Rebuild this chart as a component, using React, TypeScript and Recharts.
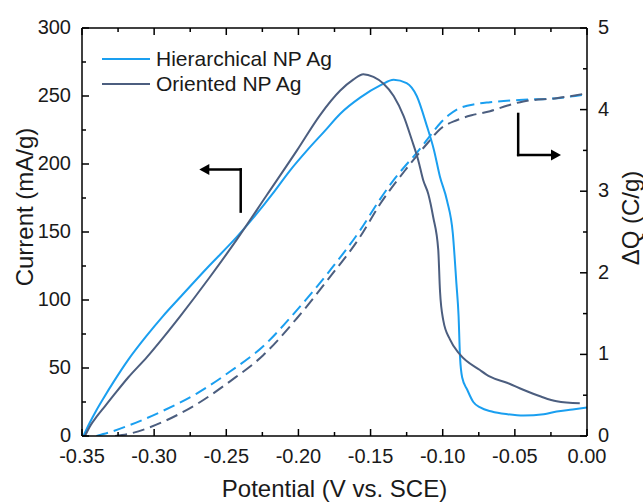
import { LineChart, Line, XAxis, YAxis, Legend, ReferenceLine } from 'recharts'

// potential (V vs. SCE) / current (mA/g)
const hierCurrentV = [-0.349, -0.345, -0.34, -0.335, -0.328, -0.318, -0.305, -0.294, -0.282, -0.262, -0.243, -0.23, -0.218, -0.206, -0.194, -0.182, -0.171, -0.157, -0.143, -0.134, -0.125, -0.118, -0.111, -0.106, -0.102, -0.097, -0.093, -0.0905, -0.089, -0.088, -0.0865, -0.083, -0.0788, -0.074, -0.066, -0.055, -0.044, -0.03, -0.021, -0.01, 0]
const hierCurrent = [0, 9, 19, 28, 40, 56, 74, 88, 102, 125, 146, 162, 178, 195, 210, 224, 237, 249, 258, 262, 259.5, 250, 228, 210, 191, 173, 149, 112, 88, 58, 43, 34, 25, 21, 18, 16, 15, 16, 18, 19.5, 21]

const orientCurrentV = [-0.348, -0.344, -0.34, -0.334, -0.328, -0.318, -0.305, -0.294, -0.282, -0.262, -0.243, -0.222, -0.201, -0.185, -0.171, -0.162, -0.155, -0.148, -0.141, -0.134, -0.127, -0.1215, -0.117, -0.1135, -0.11, -0.1066, -0.1031, -0.1019, -0.0996, -0.095, -0.0881, -0.0742, -0.0672, -0.055, -0.0442, -0.032, -0.021, -0.005]
const orientCurrent = [0, 8, 14, 22, 30, 43, 58, 72, 88, 116, 144, 177, 210, 236, 254, 262, 266, 264, 259, 250, 235, 218, 203, 188, 178, 161, 137, 107, 85, 71, 60, 48.5, 43.6, 39, 34, 29, 25.5, 24]

// charge dQ (C/g)
const hierChargeV = [-0.34, -0.33, -0.3167, -0.2937, -0.2705, -0.2474, -0.2244, -0.2012, -0.1781, -0.1573, -0.1435, -0.1343, -0.125, -0.118, -0.11, -0.1019, -0.096, -0.0903, -0.0765, -0.0672, -0.0442, -0.021, 0]
const hierCharge = [0, 0.05, 0.135, 0.31, 0.52, 0.79, 1.1, 1.54, 2.03, 2.52, 2.9, 3.13, 3.33, 3.47, 3.65, 3.83, 3.93, 4.0, 4.07, 4.09, 4.12, 4.14, 4.19]

const orientChargeV = [-0.327, -0.3167, -0.2937, -0.2705, -0.2474, -0.2244, -0.2012, -0.1781, -0.1573, -0.1435, -0.125, -0.11, -0.1019, -0.0903, -0.08, -0.0672, -0.055, -0.0442, -0.021, 0]
const orientCharge = [0, 0.03, 0.175, 0.39, 0.67, 0.99, 1.44, 1.95, 2.44, 2.84, 3.28, 3.6, 3.76, 3.87, 3.93, 3.98, 4.05, 4.1, 4.14, 4.2]

const seriesNames = ['Hierarchical NP Ag', 'Oriented NP Ag']
const seriesColors = ['#1a9ff0', '#4c5e7f']

const xMajor = [-0.35, -0.3, -0.25, -0.2, -0.15, -0.1, -0.05, 0]
const xMinor = [-0.325, -0.275, -0.225, -0.175, -0.125, -0.075, -0.025]
const iMajor = [0, 50, 100, 150, 200, 250, 300]
const iMinor = [25, 75, 125, 175, 225, 275]
const qMajor = [0, 1, 2, 3, 4, 5]
const qMinor = [0.5, 1.5, 2.5, 3.5, 4.5]

// arrow annotations in data units (x, current)
const leftArrow = [[-0.24, 165], [-0.24, 196], [-0.2687, 196]]
const rightArrow = [[-0.0477, 236.8], [-0.0477, 206.6], [-0.018, 206.6]]

const zip = (xs: number[], ys: number[]) => xs.map((x, i) => ({ x, y: ys[i] }))
const sorted = (a: number[], b: number[]) => [...a, ...b].sort((p, q) => p - q)
const isMajor = (v: number, majors: number[]) => majors.some(m => Math.abs(m - v) < 1e-9)

const FONT = '"Liberation Sans", Arial, sans-serif'
const INK = '#1a1a1a'
const MAJ = 7
const MIN = 4

function BottomTick({ x, y, payload }: any) {
  const major = isMajor(payload.value, xMajor)
  return (
    <g>
      <line x1={x} y1={y} x2={x} y2={y - (major ? MAJ : MIN)} stroke="#000" strokeWidth={1.5} />
      {major && (
        <text x={x} y={y + 20} textAnchor="middle" dominantBaseline="central" fontSize={20} fontFamily={FONT} fill={INK}>
          {payload.value.toFixed(2)}
        </text>
      )}
    </g>
  )
}

function TopTick({ x, y, payload }: any) {
  const major = isMajor(payload.value, xMajor)
  return <line x1={x} y1={y} x2={x} y2={y + (major ? MAJ : MIN)} stroke="#000" strokeWidth={1.5} />
}

function LeftTick({ x, y, payload }: any) {
  const major = isMajor(payload.value, iMajor)
  return (
    <g>
      <line x1={x} y1={y} x2={x + (major ? MAJ : MIN)} y2={y} stroke="#000" strokeWidth={1.5} />
      {major && (
        <text x={x - 11} y={y - 1} textAnchor="end" dominantBaseline="central" fontSize={20} fontFamily={FONT} fill={INK}>
          {payload.value}
        </text>
      )}
    </g>
  )
}

function RightTick({ x, y, payload }: any) {
  const major = isMajor(payload.value, qMajor)
  return (
    <g>
      <line x1={x} y1={y} x2={x - (major ? MAJ : MIN)} y2={y} stroke="#000" strokeWidth={1.5} />
      {major && (
        <text x={x + 11} y={y - 1} textAnchor="start" dominantBaseline="central" fontSize={20} fontFamily={FONT} fill={INK}>
          {payload.value}
        </text>
      )}
    </g>
  )
}

function Arrow(props: any) {
  const { x1, y1, x2, y2, head } = props
  const ang = Math.atan2(y2 - y1, x2 - x1)
  const L = 10, W = 5.5
  const bx = x2 - L * Math.cos(ang), by = y2 - L * Math.sin(ang)
  const px = -Math.sin(ang) * W, py = Math.cos(ang) * W
  return (
    <g>
      <line x1={x1} y1={y1} x2={head ? bx : x2} y2={head ? by : y2} stroke="#000" strokeWidth={2.5} strokeLinecap="square" />
      {head && <polygon points={`${x2},${y2} ${bx + px},${by + py} ${bx - px},${by - py}`} fill="#000" />}
    </g>
  )
}

function LegendBox() {
  return (
    <div style={{ fontFamily: FONT, fontSize: 21, color: INK }}>
      {seriesNames.map((n, i) => (
        <div key={n} style={{ display: 'flex', alignItems: 'center', height: 25 }}>
          <svg width={48} height={4} style={{ marginRight: 6 }}>
            <line x1={0} y1={2} x2={48} y2={2} stroke={seriesColors[i]} strokeWidth={2} />
          </svg>
          <span style={{ lineHeight: '25px' }}>{n}</span>
        </div>
      ))}
    </div>
  )
}

export default function App() {
  const arrows = [leftArrow, rightArrow]
  return (
    <div style={{ position: 'absolute', left: 0, top: 0, background: '#fff' }}>
      <LineChart width={643} height={502} margin={{ top: 27, right: 0, bottom: 0, left: 0 }}>
        <XAxis
          xAxisId="b" type="number" dataKey="x" domain={[-0.35, 0]} allowDataOverflow
          ticks={sorted(xMajor, xMinor)} interval={0} tick={<BottomTick />} tickLine={false}
          tickSize={0} tickMargin={0} height={66} axisLine={{ stroke: '#000', strokeWidth: 1.5 }}
          label={{
            content: ({ viewBox }: any) => (
              <text x={viewBox.x + viewBox.width / 2} y={viewBox.y + 52} textAnchor="middle" dominantBaseline="central" fontSize={24} fontFamily={FONT} fill={INK}>
                Potential (V vs. SCE)
              </text>
            ),
          }}
        />
        <XAxis
          xAxisId="t" orientation="top" type="number" dataKey="x" domain={[-0.35, 0]} allowDataOverflow
          ticks={sorted(xMajor, xMinor)} interval={0} tick={<TopTick />} tickLine={false}
          tickSize={0} tickMargin={0} height={1} axisLine={{ stroke: '#000', strokeWidth: 1.5 }}
        />
        <YAxis
          yAxisId="I" type="number" domain={[0, 300]} allowDataOverflow
          ticks={sorted(iMajor, iMinor)} interval={0} tick={<LeftTick />} tickLine={false}
          tickSize={0} tickMargin={0} width={82} axisLine={{ stroke: '#000', strokeWidth: 1.5 }}
          label={{
            content: ({ viewBox }: any) => (
              <text x={viewBox.x + 24} y={207} transform={`rotate(-90, ${viewBox.x + 24}, 207)`} textAnchor="middle" dominantBaseline="central" fontSize={24} fontFamily={FONT} fill={INK}>
                Current (mA/g)
              </text>
            ),
          }}
        />
        <YAxis
          yAxisId="Q" orientation="right" type="number" domain={[0, 5]} allowDataOverflow
          ticks={sorted(qMajor, qMinor)} interval={0} tick={<RightTick />} tickLine={false}
          tickSize={0} tickMargin={0} width={56} axisLine={{ stroke: '#000', strokeWidth: 1.5 }}
          label={{
            content: ({ viewBox }: any) => (
              <text x={viewBox.x + 43} y={218} transform={`rotate(-90, ${viewBox.x + 43}, 218)`} textAnchor="middle" dominantBaseline="central" fontSize={24} fontFamily={FONT} fill={INK}>
                ΔQ (C/g)
              </text>
            ),
          }}
        />
        <Legend layout="vertical" align="center" verticalAlign="middle" wrapperStyle={{ left: 102, top: 46, width: 'auto' }} content={() => <LegendBox />} />

        <Line xAxisId="b" yAxisId="Q" data={zip(hierChargeV, hierCharge)} dataKey="y" type="monotone" stroke={seriesColors[0]} strokeWidth={2} strokeDasharray="12 6" dot={false} isAnimationActive={false} />
        <Line xAxisId="b" yAxisId="Q" data={zip(orientChargeV, orientCharge)} dataKey="y" type="monotone" stroke={seriesColors[1]} strokeWidth={2} strokeDasharray="12 6" dot={false} isAnimationActive={false} />
        <Line xAxisId="b" yAxisId="I" data={zip(hierCurrentV, hierCurrent)} dataKey="y" type="monotone" stroke={seriesColors[0]} strokeWidth={2} dot={false} isAnimationActive={false} name={seriesNames[0]} />
        <Line xAxisId="b" yAxisId="I" data={zip(orientCurrentV, orientCurrent)} dataKey="y" type="monotone" stroke={seriesColors[1]} strokeWidth={2} dot={false} isAnimationActive={false} name={seriesNames[1]} />

        {arrows.flatMap((a, k) => [
          <ReferenceLine key={`a${k}0`} xAxisId="b" yAxisId="I" segment={[{ x: a[0][0], y: a[0][1] }, { x: a[1][0], y: a[1][1] }]} shape={(p: any) => <Arrow {...p} head={false} />} />,
          <ReferenceLine key={`a${k}1`} xAxisId="b" yAxisId="I" segment={[{ x: a[1][0], y: a[1][1] }, { x: a[2][0], y: a[2][1] }]} shape={(p: any) => <Arrow {...p} head />} />,
        ])}
      </LineChart>
    </div>
  )
}
